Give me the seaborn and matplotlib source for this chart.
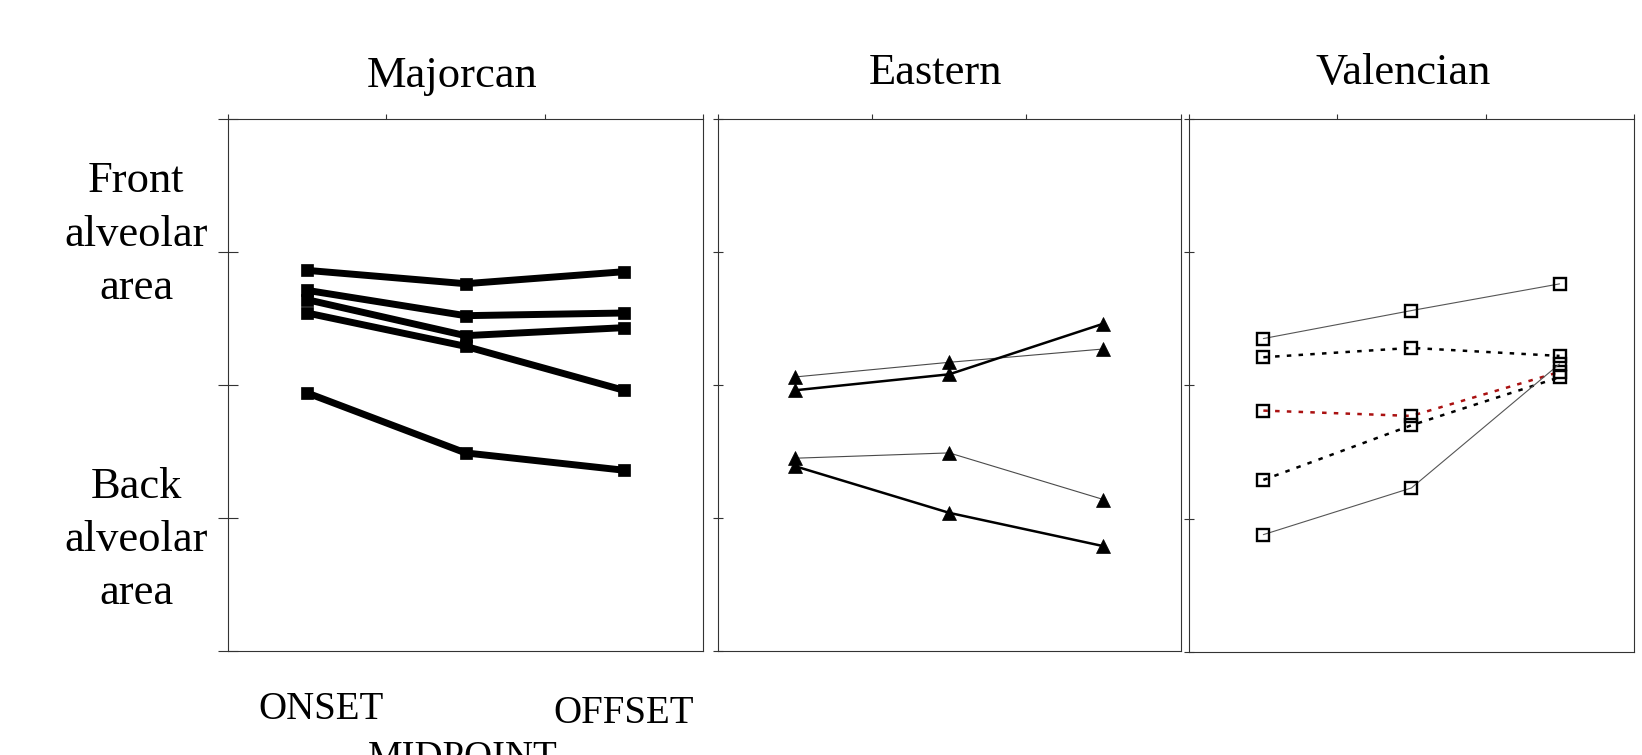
import numpy as np
import matplotlib
matplotlib.use("Agg")
import matplotlib.pyplot as plt
import seaborn as sns

# Measurement points along the consonant and the dialect groups
phases = ["ONSET", "MIDPOINT", "OFFSET"]
dialects = ["Majorcan", "Eastern", "Valencian"]
region_labels = ["Front\nalveolar\narea", "Back\nalveolar\narea"]

# Constriction location per speaker (scale 0 = bottom of panel, 4 = top)
majorcan_1 = [2.86, 2.76, 2.85]
majorcan_2 = [2.71, 2.52, 2.54]
majorcan_3 = [2.64, 2.37, 2.43]
majorcan_4 = [2.54, 2.29, 1.96]
majorcan_5 = [1.94, 1.49, 1.36]

eastern_1 = [2.06, 2.17, 2.27]
eastern_2 = [1.96, 2.08, 2.46]
eastern_3 = [1.45, 1.49, 1.14]
eastern_4 = [1.39, 1.04, 0.79]

valencian_1 = [2.35, 2.56, 2.76]
valencian_2 = [2.21, 2.28, 2.22]
valencian_3 = [1.81, 1.77, 2.10]
valencian_4 = [1.29, 1.70, 2.06]
valencian_5 = [0.88, 1.23, 2.16]

sns.set_style("ticks")
plt.rcParams["font.family"] = ["Liberation Serif", "DejaVu Serif"]
plt.rcParams["text.color"] = "black"

W, H = 1642, 755
fig = plt.figure(figsize=(W / 100, H / 100), dpi=100)


def px_axes(left, right, top, bottom):
    return fig.add_axes([left / W, 1 - bottom / H, (right - left) / W, (bottom - top) / H])


ax_maj = px_axes(228, 703, 118.5, 651.4)
ax_eas = px_axes(718, 1180.5, 118.5, 651.4)
ax_val = px_axes(1189.3, 1633.6, 118.5, 652.0)
axes = [ax_maj, ax_eas, ax_val]

xpos = np.arange(len(phases)) + 0.5

# Majorcan: heavy black lines with filled squares
for vals in [majorcan_1, majorcan_2, majorcan_3, majorcan_4, majorcan_5]:
    sns.lineplot(x=xpos, y=vals, ax=ax_maj, color="black", linewidth=5,
                 marker="s", markersize=9.3, markerfacecolor="black",
                 markeredgecolor="black", markeredgewidth=0.5,
                 legend=False, estimator=None)

# Eastern: thin grey and medium black lines with filled triangles
eastern_styles = [("#4a4a4a", 0.8), ("black", 1.8), ("#4a4a4a", 0.8), ("black", 1.8)]
for vals, (col, lw) in zip([eastern_1, eastern_2, eastern_3, eastern_4], eastern_styles):
    sns.lineplot(x=xpos, y=vals, ax=ax_eas, color=col, linewidth=lw,
                 marker="^", markersize=10.5, markerfacecolor="black",
                 markeredgecolor="black", markeredgewidth=0.5,
                 legend=False, estimator=None)

# Valencian: open squares, solid grey or dotted lines
dotted = (0, (1.8, 2.9))
valencian_styles = [("#555555", 0.8, "-"), ("black", 1.8, dotted),
                    ("#aa1111", 1.8, dotted), ("black", 1.8, dotted),
                    ("#555555", 0.8, "-")]
for vals, (col, lw, ls) in zip([valencian_1, valencian_2, valencian_3, valencian_4, valencian_5],
                               valencian_styles):
    sns.lineplot(x=xpos, y=vals, ax=ax_val, color=col, linewidth=lw, linestyle=ls,
                 marker="s", markersize=8.8, markerfacecolor="none",
                 markeredgecolor="black", markeredgewidth=1.7,
                 legend=False, estimator=None)

for ax, ylen in zip(axes, [14, 6.5, 6.5]):
    ax.set_xlim(0, len(phases))
    ax.set_ylim(0, 4)
    ax.set_xticks(np.arange(len(phases) + 1))
    ax.set_yticks(np.arange(5))
    ax.set_xlabel("")
    ax.set_ylabel("")
    ax.tick_params(axis="x", top=True, bottom=False, labeltop=False, labelbottom=False,
                   direction="out", length=3.5, width=0.8, color="#333333")
    ax.tick_params(axis="y", left=True, right=False, labelleft=False, labelright=False,
                   direction="inout", length=ylen, width=0.8, color="#333333")
    for s in ax.spines.values():
        s.set_visible(True)
        s.set_linewidth(0.8)
        s.set_color("#333333")

# Panel titles
for name, cx, base in zip(dialects, [452, 935.5, 1403], [86.5, 84, 84]):
    fig.text(cx / W, 1 - base / H, name, ha="center", va="baseline", fontsize=32)

# Vertical scale descriptions
for lab, cy in zip(region_labels, [234.5, 540]):
    fig.text(136 / W, 1 - cy / H, lab, ha="center", va="center",
             multialignment="center", fontsize=32, linespacing=1.43)

# Staggered phase labels under the first panel
for i, (lab, dx, dy) in enumerate(zip(phases, [14, -3, 0], [-68, -117, -72])):
    ax_maj.annotate(lab, xy=(xpos[i], 0), xycoords=("data", "axes fraction"),
                    xytext=(dx, dy), textcoords="offset pixels",
                    ha="center", va="baseline", fontsize=28, annotation_clip=False)

fig.savefig("out.png", dpi=100)
